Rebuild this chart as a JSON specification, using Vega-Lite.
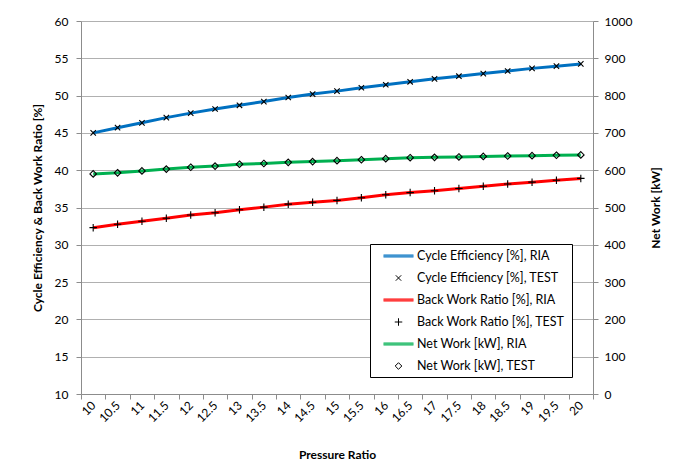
{
  "$schema": "https://vega.github.io/schema/vega-lite/v6.json",
  "width": 512,
  "height": 373,
  "autosize": "none",
  "padding": {"left": 81, "top": 21, "right": 92, "bottom": 67},
  "background": "white",
  "config": {
    "font": "Lato",
    "view": {"stroke": null},
    "axis": {"labelFont": "Lato", "labelFontSize": 12, "labelColor": "#000000", "titleFont": "Lato", "titleFontSize": 12, "titleFontWeight": "bold", "titleColor": "#000000", "domainColor": "#8c8c8c", "tickColor": "#8c8c8c", "gridColor": "#b0b0b0", "tickSize": 5},
    "legend": {"labelFont": "Lato", "labelFontSize": 12.5, "labelColor": "#000000", "orient": "none", "legendX": 289, "legendY": 223, "symbolSize": 225, "padding": 4, "rowPadding": 7, "symbolOffset": 16.5, "labelOffset": 10.5, "strokeColor": "#000000", "fillColor": "#ffffff", "cornerRadius": 0, "labelLimit": 300, "symbolStrokeWidth": 1}
  },
  "data": {"values": [
    {"pr": 10, "effR": 45.0, "effT": 45.0, "bwrR": 32.3, "bwrT": 32.3, "nwR": 590, "nwT": 590},
    {"pr": 10.5, "effR": 45.7, "effT": 45.7, "bwrR": 32.75, "bwrT": 32.75, "nwR": 593, "nwT": 593},
    {"pr": 11, "effR": 46.35, "effT": 46.35, "bwrR": 33.15, "bwrT": 33.15, "nwR": 598, "nwT": 598},
    {"pr": 11.5, "effR": 47.05, "effT": 47.05, "bwrR": 33.55, "bwrT": 33.55, "nwR": 603, "nwT": 603},
    {"pr": 12, "effR": 47.65, "effT": 47.65, "bwrR": 34.0, "bwrT": 34.0, "nwR": 608, "nwT": 608},
    {"pr": 12.5, "effR": 48.2, "effT": 48.2, "bwrR": 34.3, "bwrT": 34.3, "nwR": 611, "nwT": 611},
    {"pr": 13, "effR": 48.7, "effT": 48.7, "bwrR": 34.7, "bwrT": 34.7, "nwR": 616, "nwT": 616},
    {"pr": 13.5, "effR": 49.2, "effT": 49.2, "bwrR": 35.05, "bwrT": 35.05, "nwR": 618, "nwT": 618},
    {"pr": 14, "effR": 49.75, "effT": 49.75, "bwrR": 35.45, "bwrT": 35.45, "nwR": 621, "nwT": 621},
    {"pr": 14.5, "effR": 50.2, "effT": 50.2, "bwrR": 35.7, "bwrT": 35.7, "nwR": 623, "nwT": 623},
    {"pr": 15, "effR": 50.6, "effT": 50.6, "bwrR": 35.95, "bwrT": 35.95, "nwR": 625.5, "nwT": 625.5},
    {"pr": 15.5, "effR": 51.05, "effT": 51.05, "bwrR": 36.3, "bwrT": 36.3, "nwR": 628, "nwT": 628},
    {"pr": 16, "effR": 51.45, "effT": 51.45, "bwrR": 36.7, "bwrT": 36.7, "nwR": 631, "nwT": 631},
    {"pr": 16.5, "effR": 51.85, "effT": 51.85, "bwrR": 37.0, "bwrT": 37.0, "nwR": 633.5, "nwT": 633.5},
    {"pr": 17, "effR": 52.25, "effT": 52.25, "bwrR": 37.25, "bwrT": 37.25, "nwR": 634.5, "nwT": 634.5},
    {"pr": 17.5, "effR": 52.6, "effT": 52.6, "bwrR": 37.55, "bwrT": 37.55, "nwR": 635.5, "nwT": 635.5},
    {"pr": 18, "effR": 52.95, "effT": 52.95, "bwrR": 37.85, "bwrT": 37.85, "nwR": 637, "nwT": 637},
    {"pr": 18.5, "effR": 53.3, "effT": 53.3, "bwrR": 38.15, "bwrT": 38.15, "nwR": 638, "nwT": 638},
    {"pr": 19, "effR": 53.65, "effT": 53.65, "bwrR": 38.4, "bwrT": 38.4, "nwR": 639, "nwT": 639},
    {"pr": 19.5, "effR": 53.95, "effT": 53.95, "bwrR": 38.65, "bwrT": 38.65, "nwR": 640, "nwT": 640},
    {"pr": 20, "effR": 54.25, "effT": 54.25, "bwrR": 38.9, "bwrT": 38.9, "nwR": 641, "nwT": 641}
  ]},
  "layer": [
    {
      "encoding": {
        "x": {"field": "pr", "type": "ordinal", "scale": {"type": "band", "paddingInner": 0, "paddingOuter": 0}, "axis": {"tickBand": "extent", "labelAngle": -45, "labelAlign": "right", "labelBaseline": "middle", "labelPadding": 4, "title": "Pressure Ratio", "titleY": 60, "titleBaseline": "middle", "grid": false}},
        "y": {"field": "v", "type": "quantitative", "scale": {"domain": [10, 60], "nice": false, "zero": false}, "axis": {"orient": "left", "values": [10, 15, 20, 25, 30, 35, 40, 45, 50, 55, 60], "grid": true, "title": "Cycle Efficiency & Back Work Ratio [%]", "titleX": -44, "titleY": 186.5, "titleBaseline": "middle", "titleAngle": 270, "titleAlign": "center", "labelPadding": 8}},
        "color": {"field": "s", "type": "nominal", "scale": {"domain": ["effR", "effT", "bwrR", "bwrT", "nwR", "nwT"], "range": ["#0070C0", "#000000", "#FF0000", "#000000", "#00B050", "#000000"]},
          "legend": {"title": null, "labelExpr": "{'effR': 'Cycle Efficiency [%], RIA', 'effT': 'Cycle Efficiency [%], TEST', 'bwrR': 'Back Work Ratio  [%], RIA', 'bwrT': 'Back Work Ratio  [%], TEST', 'nwR': 'Net Work [kW], RIA', 'nwT': 'Net Work [kW], TEST'}[datum.value] + '\u00a0\u00a0'"}}
      },
      "layer": [
        {
          "transform": [{"fold": ["effR", "bwrR"], "as": ["s", "v"]}],
          "mark": {"type": "line", "strokeWidth": 3}
        },
        {
          "transform": [{"fold": ["effT", "bwrT"], "as": ["s", "v"]}],
          "mark": {"type": "point", "filled": false, "size": 225, "strokeWidth": 1.1, "opacity": 1},
          "encoding": {
            "shape": {"field": "s", "type": "nominal", "scale": {"domain": ["effR", "effT", "bwrR", "bwrT", "nwR", "nwT"], "range": ["M-2,-0.133H2M-2,0H2M-2,0.133H2", "M-0.36,-0.36L0.36,0.36M-0.36,0.36L0.36,-0.36", "M-2,-0.133H2M-2,0H2M-2,0.133H2", "M-0.5,0H0.5M0,-0.5V0.5", "M-2,-0.133H2M-2,0H2M-2,0.133H2", "M0,-0.44L0.44,0L0,0.44L-0.44,0Z"]},
              "legend": {"title": null, "labelExpr": "{'effR': 'Cycle Efficiency [%], RIA', 'effT': 'Cycle Efficiency [%], TEST', 'bwrR': 'Back Work Ratio  [%], RIA', 'bwrT': 'Back Work Ratio  [%], TEST', 'nwR': 'Net Work [kW], RIA', 'nwT': 'Net Work [kW], TEST'}[datum.value] + '\u00a0\u00a0'"}}
          }
        }
      ]
    },
    {
      "encoding": {
        "x": {"field": "pr", "type": "ordinal"},
        "y": {"field": "v", "type": "quantitative", "scale": {"domain": [0, 1000], "nice": false}, "axis": {"orient": "right", "values": [0, 100, 200, 300, 400, 500, 600, 700, 800, 900, 1000], "format": "d", "grid": false, "title": "Net Work [kW]", "titleAngle": 270, "titleX": 62, "titleY": 186.5, "titleBaseline": "middle", "titleAlign": "center", "labelPadding": 6}},
        "color": {"field": "s", "type": "nominal"}
      },
      "layer": [
        {
          "transform": [{"fold": ["nwR"], "as": ["s", "v"]}],
          "mark": {"type": "line", "strokeWidth": 3}
        },
        {
          "transform": [{"fold": ["nwT"], "as": ["s", "v"]}],
          "mark": {"type": "point", "filled": false, "size": 225, "strokeWidth": 1.1, "opacity": 1},
          "encoding": {
            "shape": {"field": "s", "type": "nominal"}
          }
        }
      ]
    }
  ],
  "resolve": {"scale": {"y": "independent"}}
}
